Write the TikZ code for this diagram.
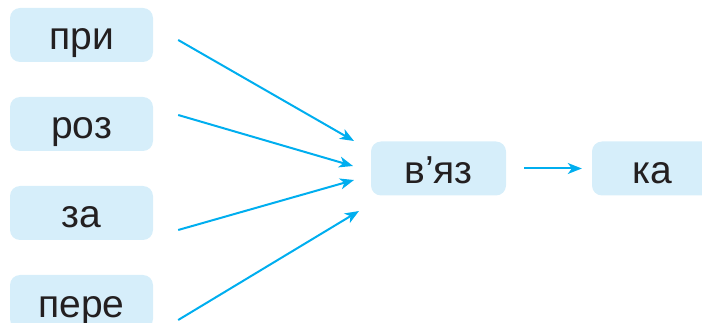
\documentclass[tikz,border=0pt]{standalone}
\usepackage{fontspec}
\setmainfont{Liberation Sans}
\usetikzlibrary{arrows.meta}
\definecolor{boxblue}{HTML}{D6EEFA}
\definecolor{arrblue}{HTML}{00AEEF}
\definecolor{ink}{HTML}{231F20}

\begin{document}
\begin{tikzpicture}[x=1pt,y=-1pt,
    part/.style={fill=boxblue,rounded corners=10pt,minimum width=143pt,minimum height=54pt,
        inner sep=0pt,text=ink,font=\fontsize{39}{40}\selectfont,
        text height=40pt,text depth=10pt},
    link/.style={arrblue,line width=2pt,-{Stealth[length=14pt,width=11pt,inset=4pt]}}]
            \useasboundingbox (0,0) rectangle (702,323);
            \node [part] (pry) at (81.5,35) {при};
            \node [part] (roz) at (81.5,124) {роз};
            \node [part] (za) at (81.5,213) {за};
            \node [part] (pere) at (81.5,302) {пере};
            \node [part,minimum width=135pt] (vyaz) at (438.5,168.5) {в’яз};
            \node [part,minimum width=120pt] (ka) at (652,168.5) {ка};
            \coordinate (t1) at (354,141);
            \coordinate (t2) at (353,166);
            \coordinate (t3) at (354,180);
            \coordinate (t4) at (359,211);
            \draw [link] ([shift={(25,5)}]pry.east) -- (t1);
            \draw [link] ([shift={(25,-9)}]roz.east) -- (t2);
            \draw [link] ([shift={(25,17)}]za.east) -- (t3);
            \draw [link] ([shift={(25,18)}]pere.east) -- (t4);
            \draw [link,shorten <=18pt,shorten >=10pt] (vyaz) -- (ka);
        \end{tikzpicture}
\end{document}
